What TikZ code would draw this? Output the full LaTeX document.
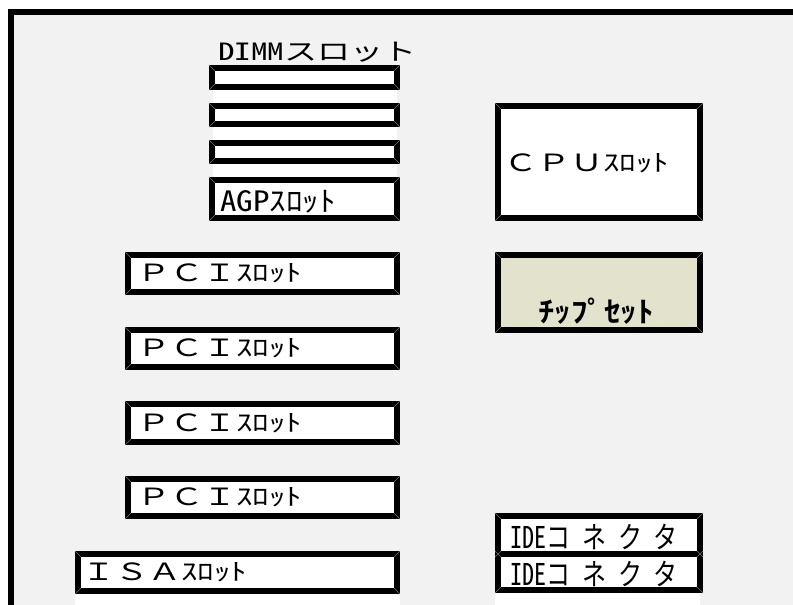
\documentclass[tikz,border=0pt]{standalone}
\usepackage{fontspec}
\usepackage{graphicx}
\newfontfamily\jp{Noto Sans CJK JP}
\newfontfamily\jph[RawFeature=+hwid]{Noto Sans CJK JP}
\newfontfamily\jpls[LetterSpace=50]{Noto Sans CJK JP}
\newfontfamily\jpb{Noto Sans CJK JP Bold}
\definecolor{boardgray}{HTML}{F2F2F2}
\definecolor{chipfill}{HTML}{E3E3CD}
\newcommand{\sqz}[2][0.72]{\scalebox{1}[#1]{#2}}
\begin{document}
\begin{tikzpicture}[x=1pt,y=1pt,
  slotbox/.style={draw=black, line width=6pt, fill=white, inner sep=0pt, outer sep=0pt},
  lbl/.style={anchor=west, inner sep=0pt, outer sep=0pt, font=\jp\fontsize{33}{33}\selectfont},
  bevel/.style={draw=black!55, line width=0.6pt}]
\useasboundingbox (0,0) rectangle (793,605);
\fill[white] (0,0) rectangle (793,605);
\fill[boardgray] (14,0) rectangle (793,590);
\draw[line width=6pt] (8,593) -- (793,593);
\draw[line width=6pt] (11,596) -- (11,0);
% white patches
\fill[white] (213,384) rectangle (397,540);
\fill[white] (75,0) rectangle (400,33);
\fill[white] (495,0) rectangle (700,33);
% DIMM and AGP
\node[slotbox, minimum width=185pt, minimum height=19pt] (dimm1) at (304.5,527.5) {};
\node[slotbox, minimum width=185pt, minimum height=18pt] (dimm2) at (304.5,490) {};
\node[slotbox, minimum width=185pt, minimum height=18pt] (dimm3) at (304.5,453) {};
\node[slotbox, minimum width=185pt, minimum height=38pt] (agp) at (304.5,406) {};
% CPU and chipset
\node[slotbox, minimum width=202pt, minimum height=112pt] (cpu) at (599,443) {};
\node[slotbox, fill=chipfill, minimum width=202pt, minimum height=75pt] (chip) at (599,312.5) {};
% PCI and ISA
\node[slotbox, minimum width=269pt, minimum height=37pt] (pci1) at (262.5,331.5) {};
\node[slotbox, minimum width=269pt, minimum height=37pt] (pci2) at (262.5,256.5) {};
\node[slotbox, minimum width=269pt, minimum height=38pt] (pci3) at (262.5,182) {};
\node[slotbox, minimum width=269pt, minimum height=37pt] (pci4) at (262.5,107.5) {};
\node[slotbox, minimum width=319pt, minimum height=37pt] (isa) at (237.5,32.5) {};
% IDE
\node[slotbox, minimum width=202pt, minimum height=38pt] (ide1) at (599,70) {};
\node[slotbox, minimum width=202pt, minimum height=36pt] (ide2) at (599,33) {};
% bevel corners
\foreach \n in {dimm1,dimm2,dimm3,agp,cpu,chip,pci1,pci2,pci3,pci4,isa,ide1,ide2}{
  \draw[bevel] ([shift={(-3,3)}]\n.north west) -- ([shift={(3,-3)}]\n.north west);
  \draw[bevel] ([shift={(3,3)}]\n.north east) -- ([shift={(-3,-3)}]\n.north east);
  \draw[bevel] ([shift={(-3,-3)}]\n.south west) -- ([shift={(3,3)}]\n.south west);
  \draw[bevel] ([shift={(3,-3)}]\n.south east) -- ([shift={(-3,3)}]\n.south east);
}
% labels
\node[lbl] (dimmlbl) at (218,553) {\sqz{{\jph DIMM}スロット}};
\node[lbl] (agplbl) at (220,403) {\sqz[0.85]{{\jph AGP}ｽﾛｯﾄ}};
\node[lbl] (cpulbl) at (504,442) {\sqz{ＣＰＵｽﾛｯﾄ}};
\node[lbl] (chiplbl) at (538,293.5) {\sqz[0.87]{\jpb ﾁｯﾌﾟｾｯﾄ}};
\node[lbl] (pcilbl1) at (137,331.5) {\sqz{ＰＣＩｽﾛｯﾄ}};
\node[lbl] (pcilbl2) at (137,256.5) {\sqz{ＰＣＩｽﾛｯﾄ}};
\node[lbl] (pcilbl3) at (137,182) {\sqz{ＰＣＩｽﾛｯﾄ}};
\node[lbl] (pcilbl4) at (137,107.5) {\sqz{ＰＣＩｽﾛｯﾄ}};
\node[lbl] (isalbl) at (82,32.5) {\sqz{ＩＳＡｽﾛｯﾄ}};
\node[lbl, font=\jp\fontsize{24}{24}\selectfont] (idelbl1) at (510,68.5) {\sqz[1.25]{{\jph IDE}{\jpls コネクタ}}};
\node[lbl, font=\jp\fontsize{24}{24}\selectfont] (idelbl2) at (510,31) {\sqz[1.25]{{\jph IDE}{\jpls コネクタ}}};
\end{tikzpicture}
\end{document}
